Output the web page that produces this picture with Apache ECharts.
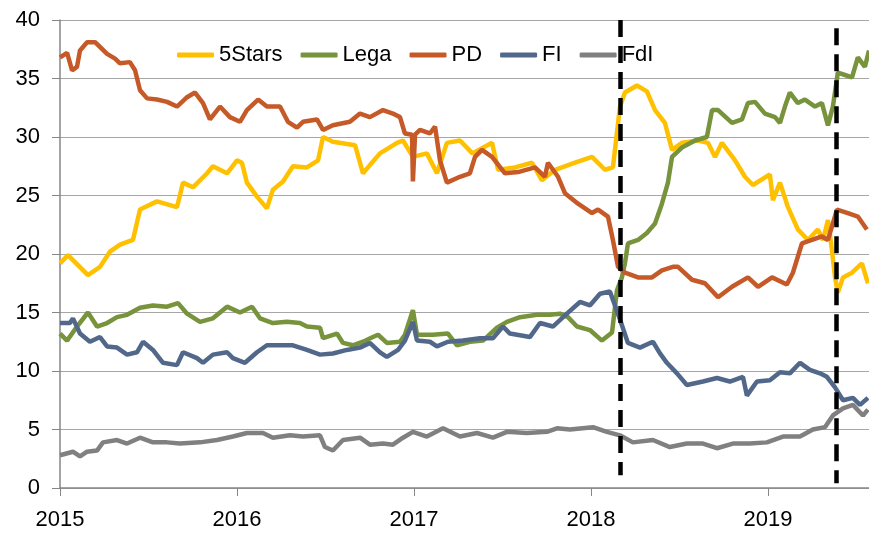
<!DOCTYPE html>
<html>
<head>
<meta charset="utf-8">
<script src="https://cdn.jsdelivr.net/npm/echarts@6/dist/echarts.min.js"></script>
<style>
  html, body { margin: 0; padding: 0; background: #fff; }
  #main { width: 869px; height: 533px; }
</style>
</head>
<body>
<div id="main"></div>
<script>
// poll shares, [year, %]
var names = ['5Stars', 'Lega', 'PD', 'FI', 'FdI'];
var colors = ['#FFC000', '#77933C', '#C55A28', '#52688A', '#808080'];
var yearTicks = [2015, 2016, 2017, 2018, 2019];
var events = [2018.167, 2019.386]; // general election, EU election

var stars5 = [
  [2015.000,19.2],[2015.045,19.9],[2015.158,18.2],[2015.226,18.9],[2015.282,20.2],[2015.339,20.8],
  [2015.412,21.2],[2015.452,23.8],[2015.548,24.5],[2015.661,24.0],[2015.695,26.1],[2015.751,25.7],
  [2015.831,26.9],[2015.864,27.5],[2015.944,26.9],[2016.000,28.0],[2016.028,27.8],[2016.056,26.1],
  [2016.113,24.9],[2016.169,23.9],[2016.203,25.5],[2016.260,26.2],[2016.316,27.5],[2016.395,27.4],
  [2016.458,28.0],[2016.486,30.0],[2016.542,29.6],[2016.667,29.3],[2016.712,26.9],[2016.751,27.6],
  [2016.808,28.6],[2016.904,29.5],[2016.938,29.7],[2016.994,28.3],[2017.073,28.6],[2017.130,26.9],
  [2017.186,29.5],[2017.260,29.7],[2017.330,28.6],[2017.441,29.5],[2017.475,27.2],[2017.571,27.4],
  [2017.667,27.8],[2017.723,26.3],[2017.797,27.2],[2017.910,27.8],[2018.006,28.3],[2018.079,27.2],
  [2018.124,27.4],[2018.164,32.6],[2018.192,33.8],[2018.260,34.4],[2018.316,33.9],[2018.362,32.3],
  [2018.418,31.2],[2018.458,28.9],[2018.514,29.5],[2018.605,29.7],[2018.661,29.5],[2018.701,28.3],
  [2018.740,29.5],[2018.814,28.0],[2018.870,26.6],[2018.915,25.9],[2019.011,26.8],[2019.028,24.6],
  [2019.068,26.1],[2019.113,24.0],[2019.169,22.1],[2019.226,21.2],[2019.282,22.1],[2019.311,21.2],
  [2019.339,22.9],[2019.362,20.3],[2019.379,18.0],[2019.395,16.7],[2019.424,18.0],[2019.475,18.4],
  [2019.531,19.2],[2019.565,17.5]
];

var lega = [
  [2015.000,13.2],[2015.040,12.6],[2015.096,13.8],[2015.158,15.0],[2015.209,13.8],[2015.266,14.1],
  [2015.322,14.6],[2015.379,14.8],[2015.452,15.4],[2015.525,15.6],[2015.605,15.5],[2015.667,15.8],
  [2015.718,14.9],[2015.791,14.2],[2015.864,14.5],[2015.944,15.5],[2016.017,15.0],[2016.085,15.5],
  [2016.130,14.5],[2016.203,14.1],[2016.282,14.2],[2016.356,14.1],[2016.395,13.8],[2016.469,13.7],
  [2016.486,12.8],[2016.565,13.2],[2016.599,12.4],[2016.655,12.2],[2016.712,12.5],[2016.768,12.9],
  [2016.797,13.1],[2016.847,12.4],[2016.921,12.5],[2016.949,13.1],[2016.994,15.2],[2017.017,13.1],
  [2017.107,13.1],[2017.192,13.2],[2017.243,12.2],[2017.316,12.5],[2017.390,12.6],[2017.469,13.7],
  [2017.525,14.2],[2017.599,14.6],[2017.695,14.8],[2017.768,14.8],[2017.825,14.9],[2017.870,14.6],
  [2017.921,13.8],[2017.994,13.5],[2018.062,12.6],[2018.119,13.3],[2018.147,16.9],[2018.175,18.0],
  [2018.192,19.2],[2018.209,20.9],[2018.266,21.2],[2018.316,21.8],[2018.362,22.6],[2018.401,24.3],
  [2018.435,26.1],[2018.458,28.3],[2018.514,29.1],[2018.588,29.7],[2018.655,30.0],[2018.684,32.3],
  [2018.718,32.3],[2018.797,31.2],[2018.853,31.5],[2018.887,32.9],[2018.927,33.0],[2018.983,32.0],
  [2019.040,31.7],[2019.068,31.2],[2019.096,32.6],[2019.124,33.8],[2019.169,32.9],[2019.209,33.2],
  [2019.266,32.6],[2019.305,32.9],[2019.339,31.0],[2019.367,32.6],[2019.395,35.5],[2019.435,35.3],
  [2019.475,35.1],[2019.508,36.8],[2019.548,36.0],[2019.571,37.4]
];

var pd = [
  [2015.000,36.8],[2015.040,37.2],[2015.068,35.7],[2015.096,36.0],[2015.113,37.4],[2015.153,38.1],
  [2015.198,38.1],[2015.266,37.1],[2015.311,36.7],[2015.339,36.3],[2015.395,36.4],[2015.424,35.7],
  [2015.452,34.0],[2015.492,33.3],[2015.548,33.2],[2015.605,33.0],[2015.661,32.6],[2015.718,33.4],
  [2015.763,33.8],[2015.808,32.9],[2015.847,31.5],[2015.904,32.6],[2015.960,31.7],[2016.017,31.3],
  [2016.056,32.3],[2016.119,33.2],[2016.169,32.6],[2016.243,32.6],[2016.288,31.3],[2016.339,30.8],
  [2016.373,31.3],[2016.452,31.5],[2016.486,30.6],[2016.542,31.0],[2016.638,31.3],[2016.695,32.0],
  [2016.751,31.7],[2016.825,32.3],[2016.881,32.0],[2016.921,31.7],[2016.949,30.3],[2016.989,30.2],
  [2016.994,26.2],[2017.006,30.2],[2017.034,30.6],[2017.090,30.3],[2017.119,30.9],[2017.147,28.0],
  [2017.186,26.1],[2017.260,26.6],[2017.316,26.9],[2017.345,28.3],[2017.384,28.9],[2017.441,28.3],
  [2017.514,26.9],[2017.588,27.0],[2017.684,27.4],[2017.740,26.6],[2017.757,27.8],[2017.814,26.6],
  [2017.853,25.2],[2017.927,24.3],[2018.006,23.5],[2018.040,23.8],[2018.096,23.2],[2018.124,21.2],
  [2018.153,18.9],[2018.192,18.4],[2018.266,18.0],[2018.345,18.0],[2018.401,18.6],[2018.463,18.9],
  [2018.492,18.9],[2018.571,17.8],[2018.644,17.5],[2018.718,16.3],[2018.797,17.2],[2018.887,18.0],
  [2018.944,17.2],[2019.023,18.0],[2019.107,17.4],[2019.141,18.4],[2019.192,20.9],[2019.249,21.2],
  [2019.305,21.5],[2019.339,21.2],[2019.390,23.8],[2019.452,23.5],[2019.508,23.2],[2019.559,22.1]
];

var fi = [
  [2015.000,14.1],[2015.056,14.1],[2015.073,14.5],[2015.113,13.2],[2015.169,12.5],[2015.226,12.9],
  [2015.266,12.1],[2015.322,12.0],[2015.379,11.4],[2015.435,11.6],[2015.469,12.5],[2015.525,11.8],
  [2015.582,10.7],[2015.661,10.5],[2015.695,11.6],[2015.774,11.1],[2015.808,10.7],[2015.864,11.4],
  [2015.944,11.6],[2015.977,11.1],[2016.045,10.7],[2016.113,11.6],[2016.169,12.2],[2016.243,12.2],
  [2016.316,12.2],[2016.395,11.8],[2016.469,11.4],[2016.542,11.5],[2016.621,11.8],[2016.695,12.0],
  [2016.751,12.4],[2016.808,11.6],[2016.847,11.2],[2016.910,11.8],[2016.949,12.6],[2016.994,14.2],
  [2017.017,12.6],[2017.090,12.5],[2017.130,12.1],[2017.192,12.5],[2017.277,12.6],[2017.373,12.8],
  [2017.446,12.8],[2017.503,13.8],[2017.542,13.2],[2017.655,12.9],[2017.712,14.1],[2017.785,13.8],
  [2017.864,14.9],[2017.938,15.9],[2017.994,15.6],[2018.051,16.6],[2018.107,16.8],[2018.124,16.1],
  [2018.164,14.4],[2018.209,12.4],[2018.277,12.0],[2018.350,12.5],[2018.390,11.5],[2018.429,10.7],
  [2018.486,9.8],[2018.542,8.8],[2018.633,9.1],[2018.712,9.4],[2018.785,9.1],[2018.859,9.5],
  [2018.881,7.9],[2018.938,9.1],[2019.011,9.2],[2019.068,9.9],[2019.124,9.8],[2019.181,10.7],
  [2019.237,10.1],[2019.294,9.8],[2019.333,9.5],[2019.379,8.6],[2019.424,7.5],[2019.480,7.7],
  [2019.520,7.1],[2019.565,7.7]
];

var fdi = [
  [2015.000,2.8],[2015.073,3.1],[2015.113,2.7],[2015.153,3.1],[2015.209,3.2],[2015.243,3.9],
  [2015.322,4.1],[2015.379,3.8],[2015.452,4.3],[2015.525,3.9],[2015.605,3.9],[2015.678,3.8],
  [2015.791,3.9],[2015.887,4.1],[2015.977,4.4],[2016.056,4.7],[2016.147,4.7],[2016.203,4.3],
  [2016.299,4.5],[2016.373,4.4],[2016.469,4.5],[2016.497,3.5],[2016.542,3.2],[2016.599,4.1],
  [2016.695,4.3],[2016.751,3.7],[2016.825,3.8],[2016.881,3.7],[2016.938,4.3],[2016.994,4.8],
  [2017.073,4.4],[2017.164,5.1],[2017.260,4.4],[2017.356,4.7],[2017.446,4.3],[2017.525,4.8],
  [2017.638,4.7],[2017.751,4.8],[2017.808,5.1],[2017.881,5.0],[2018.011,5.2],[2018.090,4.8],
  [2018.164,4.5],[2018.237,3.9],[2018.350,4.1],[2018.446,3.5],[2018.542,3.8],[2018.633,3.8],
  [2018.712,3.4],[2018.802,3.8],[2018.898,3.8],[2018.994,3.9],[2019.085,4.4],[2019.181,4.4],
  [2019.254,5.0],[2019.322,5.2],[2019.367,6.2],[2019.424,6.8],[2019.480,7.1],[2019.537,6.2],
  [2019.565,6.7]
];

var seriesData = [stars5, lega, pd, fi, fdi];
var font = 'Liberation Sans';

var series = names.map(function (n, i) {
    return {
        name: n,
        type: 'line',
        data: seriesData[i],
        showSymbol: false,
        lineStyle: { width: 4.5, color: colors[i] },
        itemStyle: { color: colors[i] }
    };
});

// vertical dashed event markers
series.push({
    name: 'events',
    type: 'line',
    data: [],
    markLine: {
        silent: true,
        symbol: 'none',
        label: { show: false },
        lineStyle: { color: '#000', width: 4.5, type: [17, 9] },
        data: [
            [{ coord: [events[0], 40] }, { coord: [events[0], 1.1] }],
            [{ coord: [events[1], 39.3] }, { coord: [events[1], 0.4] }]
        ]
    }
});

var option = {
    animation: false,
    grid: { left: 60, right: 0, top: 20, bottom: 45 },
    legend: {
        data: names,
        left: 172,
        top: 39,
        icon: 'roundRect',
        itemWidth: 37,
        itemHeight: 5,
        itemGap: 18,
        textStyle: { fontFamily: font, fontSize: 22, color: '#000' }
    },
    xAxis: {
        type: 'value',
        min: yearTicks[0],
        max: 2019.571,
        interval: 1,
        axisLine: { lineStyle: { color: '#868686', width: 1.5 } },
        axisTick: { show: true, length: 8, lineStyle: { color: '#868686' } },
        splitLine: { show: false },
        axisLabel: {
            margin: 21,
            fontFamily: font, fontSize: 22, color: '#000',
            showMaxLabel: false,
            formatter: function (v) { return yearTicks.indexOf(v) >= 0 ? String(v) : ''; }
        }
    },
    yAxis: {
        type: 'value',
        min: 0,
        max: 40,
        interval: 5,
        axisLine: { show: true, lineStyle: { color: '#868686', width: 1.5 } },
        axisTick: { show: true, length: 8, lineStyle: { color: '#868686' } },
        splitLine: { lineStyle: { color: '#A6A6A6', width: 1.2 } },
        axisLabel: { margin: 20, fontFamily: font, fontSize: 22, color: '#000' }
    },
    series: series
};

var chart = echarts.init(document.getElementById('main'));
chart.setOption(option);
</script>
</body>
</html>
